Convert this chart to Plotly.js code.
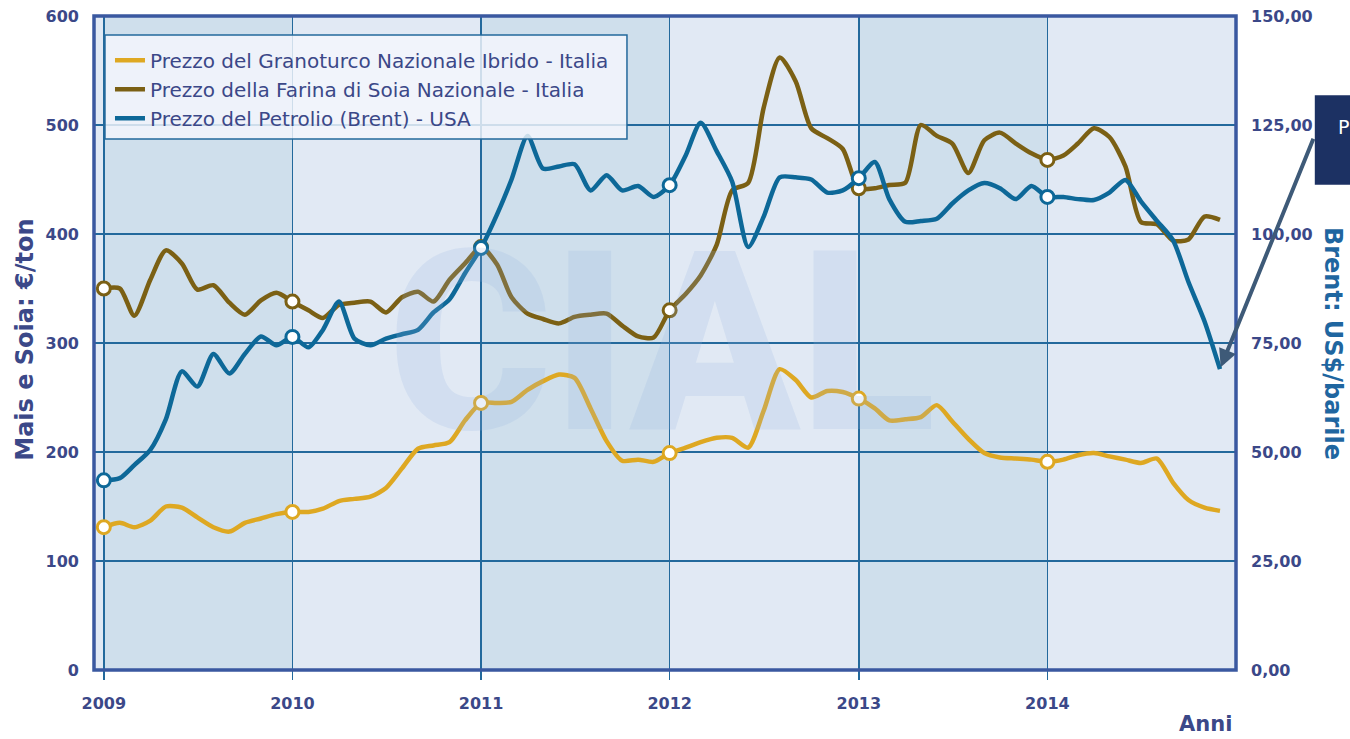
<!DOCTYPE html>
<html>
<head>
<meta charset="utf-8">
<script src="https://cdn.plot.ly/plotly-3.0.1.min.js"></script>
<style>html,body{margin:0;padding:0;background:#fff;}#chart{width:1350px;height:739px;}</style>
</head>
<body>
<div id="chart"></div>
<script>
// ---- data ----
var years = [2009, 2010, 2011, 2012, 2013, 2014];
var yearLabels = ['2009', '2010', '2011', '2012', '2013', '2014'];
var monthNums = ['01','02','03','04','05','06','07','08','09','10','11','12'];

var seriesNames = [
  'Prezzo del Granoturco Nazionale Ibrido - Italia',
  'Prezzo della Farina di Soia Nazionale - Italia',
  'Prezzo del Petrolio (Brent) - USA'
];

// €/ton, monthly Jan 2009 - Dec 2014
var cornPrice = [
  131, 135, 131, 137, 150, 149, 140, 131, 127, 135, 139, 143,
  145, 145, 148, 155, 157, 159, 167, 185, 203, 206, 209, 229,
  245, 245, 246, 257, 265, 271, 268, 240, 210, 192, 193, 191,
  199, 204, 209, 213, 213, 204, 238, 276, 266, 250, 256, 255,
  249, 240, 229, 230, 232, 243, 228, 212, 199, 195, 194, 193,
  191, 193, 197, 199, 196, 193, 190, 194, 172, 156, 149, 146
];
var soyPrice = [
  350, 350, 325, 358, 385, 373, 349, 353, 337, 326, 339, 346,
  338, 330, 323, 335, 337, 338, 328, 342, 347, 338, 358, 373,
  388, 372, 342, 327, 322, 318, 324, 326, 327, 316, 306, 305,
  330, 345, 362, 390, 440, 447, 516, 562, 540, 497, 488, 478,
  442, 442, 445, 447, 500, 490, 483, 456, 486, 493, 483, 474,
  468, 472, 483, 497, 489, 462, 411, 409, 394, 395, 416, 413
];
// US$/barile
var brentPrice = [
  43.5, 44, 47, 50.5, 57.5, 68.5, 65, 72.5, 68, 72.5, 76.5, 74.5,
  76.4, 74, 78, 84.5, 76, 74.5, 76, 77, 78, 82, 85, 91,
  96.8, 104.5, 112.5, 122.5, 115, 115.5, 116, 110, 113.5, 110, 111, 108.5,
  111.2, 118, 125.5, 119, 112, 97, 104, 113, 113, 112.5, 109.5, 110,
  112.8, 116.5, 108, 102.8, 103, 103.5, 107, 110, 111.7, 110.5, 108, 111,
  108.5, 108.5, 108, 107.8, 109.5, 112.4, 107.5, 103, 98.6, 89, 80, 69
];

// ---- build ----
var months = [];
years.forEach(function (y) { monthNums.forEach(function (m) { months.push(y + '-' + m + '-01'); }); });

var colCorn = '#dea822', colSoy = '#7b6014', colBrent = '#0d6898';
var navy = '#3b4888', grid = '#23699c';

function lineTrace(vals, name, color, yaxis) {
  return {x: months, y: vals, name: name, type: 'scatter', mode: 'lines', yaxis: yaxis,
    line: {color: color, width: 4.5, shape: 'spline', smoothing: 0.7}, hoverinfo: 'x+y'};
}
function janMarkers(vals, color, yaxis) {
  var xs = [], ys = [];
  months.forEach(function (d, i) { if (d.slice(5, 7) === '01') { xs.push(d); ys.push(vals[i]); } });
  return {x: xs, y: ys, type: 'scatter', mode: 'markers', yaxis: yaxis, showlegend: false,
    marker: {size: 13, color: '#ffffff', line: {color: color, width: 3}}};
}

var data = [
  lineTrace(cornPrice, seriesNames[0], colCorn, 'y'),
  lineTrace(soyPrice, seriesNames[1], colSoy, 'y'),
  lineTrace(brentPrice, seriesNames[2], colBrent, 'y2'),
  janMarkers(cornPrice, colCorn, 'y'),
  janMarkers(soyPrice, colSoy, 'y'),
  janMarkers(brentPrice, colBrent, 'y2')
];

var tickVals = years.map(function (y) { return y + '-01-01'; });

var shapes = [];
// alternating darker year bands
years.forEach(function (y, i) {
  if (i % 2 === 0) {
    shapes.push({type: 'rect', xref: 'x', yref: 'paper', x0: y + '-01-01', x1: (y + 1) + '-01-01',
      y0: 0, y1: 1, fillcolor: '#cfdfec', line: {width: 0}, layer: 'below'});
  }
});
// legend box
shapes.push({type: 'rect', xref: 'paper', yref: 'paper', x0: 0.0096, x1: 0.4667, y0: 0.812, y1: 0.971,
  fillcolor: 'rgba(244,247,252,0.82)', line: {color: grid, width: 1.5}, layer: 'above'});
// frame
shapes.push({type: 'rect', xref: 'paper', yref: 'paper', x0: 0, x1: 1, y0: 0, y1: 1,
  line: {color: '#3a58a0', width: 3.5}, layer: 'above'});
// callout box
shapes.push({type: 'rect', xref: 'paper', yref: 'paper', x0: 1.069, x1: 1.25, y0: 0.742, y1: 0.879,
  fillcolor: '#1c3163', line: {width: 0}, layer: 'above'});

var fontFam = 'DejaVu Sans, sans-serif';
var layout = {
  width: 1350, height: 739,
  margin: {l: 94, r: 114, t: 16, b: 69},
  paper_bgcolor: '#ffffff',
  plot_bgcolor: '#e1e9f4',
  separators: ',.',
  showlegend: true,
  legend: {x: 0.014, y: 0.962, xanchor: 'left', yanchor: 'top', bgcolor: 'rgba(0,0,0,0)',
    borderwidth: 0, font: {family: fontFam, size: 20, color: navy}, itemwidth: 30},
  xaxis: {type: 'date', range: ['2008-12-13', '2015-01-01'], tickvals: tickVals, ticktext: yearLabels,
    showgrid: true, gridcolor: grid, gridwidth: 1.5, ticks: 'outside', ticklen: 9, tickwidth: 1.5,
    tickcolor: grid, showline: false, zeroline: false, ticklabelstandoff: 10,
    tickfont: {family: fontFam, size: 16, color: navy, weight: 'bold'}},
  yaxis: {range: [0, 600], dtick: 100, showgrid: true, gridcolor: grid, gridwidth: 1.5,
    zeroline: false, showline: false, ticks: '', ticklabelstandoff: 14,
    tickfont: {family: fontFam, size: 16, color: navy, weight: 'bold'}},
  yaxis2: {range: [0, 150], dtick: 25, overlaying: 'y', side: 'right', showgrid: false, zeroline: false,
    showline: false, ticks: '', tickformat: '.2f', ticklabelstandoff: 14,
    tickfont: {family: fontFam, size: 16, color: navy, weight: 'bold'}},
  shapes: shapes,
  annotations: [
    {text: 'CIAL', xref: 'paper', yref: 'paper', x: 0.497, y: 0.5, showarrow: false,
      font: {family: 'Roboto, sans-serif', size: 250, weight: 900, color: 'rgba(150,180,225,0.2)'}},
    {text: 'Mais e Soia: €/ton', xref: 'paper', yref: 'paper', x: -0.0604, y: 0.505, textangle: -90,
      showarrow: false, xanchor: 'center', yanchor: 'middle',
      font: {family: fontFam, size: 24, color: navy, weight: 'bold'}},
    {text: 'Brent: US$/barile', xref: 'paper', yref: 'paper', x: 1.085, y: 0.5, textangle: 90,
      showarrow: false, xanchor: 'center', yanchor: 'middle',
      font: {family: fontFam, size: 24, color: '#1f66a0', weight: 'bold'}},
    {text: 'Anni', xref: 'paper', yref: 'paper', x: 0.998, y: -0.083, showarrow: false,
      xanchor: 'right', yanchor: 'middle', font: {family: fontFam, size: 21, color: navy, weight: 'bold'}},
    {text: 'P', xref: 'paper', yref: 'paper', x: 1.0875, y: 0.83, showarrow: false,
      xanchor: 'left', yanchor: 'middle', font: {family: fontFam, size: 19, color: '#ffffff'}},
    {text: '', xref: 'x', yref: 'y2', x: months[months.length - 1], y: brentPrice[brentPrice.length - 1],
      showarrow: true, ax: 94, ay: -232, arrowcolor: '#3e5a78', arrowwidth: 4, arrowhead: 2,
      arrowsize: 0.9, standoff: 2}
  ]
};

Plotly.newPlot('chart', data, layout, {displayModeBar: false, staticPlot: true});
</script>
</body>
</html>
